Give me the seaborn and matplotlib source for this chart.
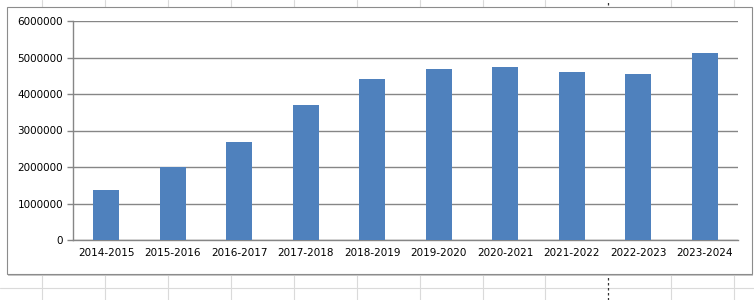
import matplotlib
matplotlib.use("Agg")
import matplotlib.pyplot as plt
import seaborn as sns
import pandas as pd
from matplotlib.patches import Rectangle
from matplotlib.lines import Line2D

categories = ["2014-2015", "2015-2016", "2016-2017", "2017-2018", "2018-2019",
              "2019-2020", "2020-2021", "2021-2022", "2022-2023", "2023-2024"]
values = [1360000, 1990000, 2680000, 3700000, 4410000,
          4680000, 4750000, 4600000, 4545000, 5130000]
yticks = [0, 1000000, 2000000, 3000000, 4000000, 5000000, 6000000]

sns.set_theme(style="white")
plt.rcParams['font.family'] = ['DejaVu Sans']

W, H = 754, 300
fig = plt.figure(figsize=(W / 100, H / 100), dpi=100)
fig.patch.set_facecolor("white")

# spreadsheet cell grid behind the chart
cell_col = "#DADADA"
for x in [42, 105, 168, 231, 294, 357, 420, 483, 545, 671, 734]:
    fig.add_artist(Line2D([x / W, x / W], [0, 1], color=cell_col, lw=0.8, zorder=0))
for y in [288]:
    fig.add_artist(Line2D([0, 1], [1 - y / H, 1 - y / H], color=cell_col, lw=0.8, zorder=0))
fig.add_artist(Line2D([608 / W, 608 / W], [0, 1], color="#333333", lw=0.9,
                      ls=(0, (2, 2)), zorder=0))

# chart frame with a slight shadow
fig.add_artist(Rectangle((8 / W, 1 - 275.5 / H), 745 / W, 267 / H,
                         facecolor="#C8C8C8", edgecolor="none", zorder=1))
fig.add_artist(Rectangle((7 / W, 1 - 274 / H), 745 / W, 267 / H,
                         facecolor="white", edgecolor="#8C8C8C", lw=0.8, zorder=2))

ax = fig.add_axes([73 / W, 1 - 240 / H, (738 - 73) / W, (240 - 21) / H], zorder=3)
ax.set_facecolor("none")

df = pd.DataFrame({"period": categories, "value": values})
sns.barplot(data=df, x="period", y="value", color="#4F81BD", saturation=1,
            width=0.39, linewidth=0, ax=ax, zorder=3)

ax.set_xlim(-0.5, len(categories) - 0.5)
ax.set_ylim(0, 6000000)
ax.set_yticks(yticks)
ax.set_yticklabels([str(v) for v in yticks])
ax.yaxis.grid(True, color="#868686", lw=1.0)
ax.set_axisbelow(True)
ax.set_xlabel("")
ax.set_ylabel("")

for s in ["top", "right"]:
    ax.spines[s].set_visible(False)
for s in ["left", "bottom"]:
    ax.spines[s].set_color("#868686")
    ax.spines[s].set_linewidth(1.0)

ax.tick_params(axis="x", which="major", length=0, pad=6, labelsize=7.5, labelcolor="black")
ax.set_xticks([i - 0.5 for i in range(len(categories) + 1)], minor=True)
ax.tick_params(axis="x", which="minor", length=4, color="#868686", width=1.0, direction="out")
ax.tick_params(axis="y", length=4, color="#868686", width=1.0, direction="out",
               pad=3, labelsize=7.5, labelcolor="black", left=True)

fig.savefig("out.png", dpi=100, facecolor="white")
